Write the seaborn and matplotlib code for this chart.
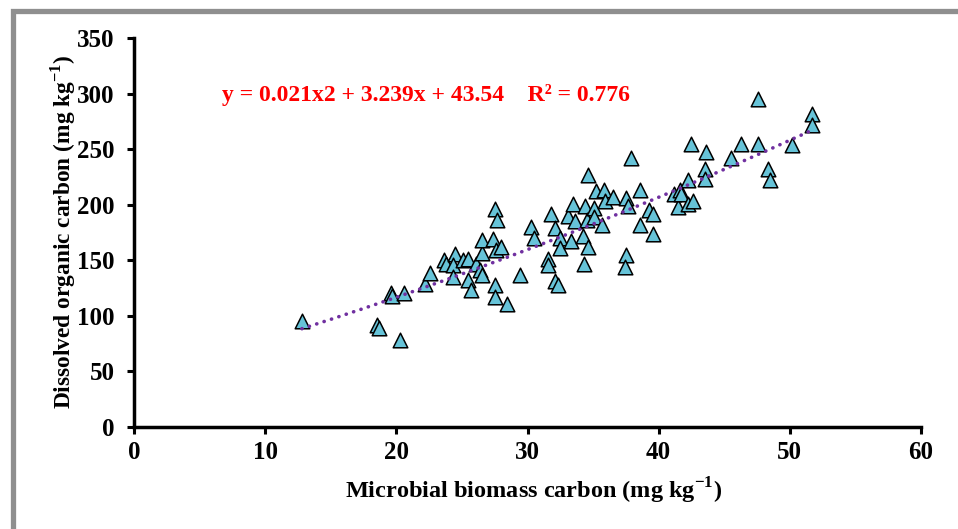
import numpy as np
import pandas as pd
import matplotlib
matplotlib.use("Agg")
import matplotlib.pyplot as plt
import seaborn as sns
from matplotlib.patches import Rectangle

# ---- data ----
mbc = [12.8, 18.5, 18.7, 20.3, 19.6, 19.7, 20.6, 22.2, 22.6, 23.6, 23.8, 24.5, 24.3, 24.3,
       25.1, 25.5, 25.5, 25.7, 26.1, 26.4, 26.5, 26.5, 26.5, 27.4, 27.5, 27.7, 27.6, 28.0,
       27.5, 27.5, 28.4, 29.4, 30.3, 30.5, 31.6, 31.6, 31.8, 32.1, 32.1, 32.3, 32.5, 32.5,
       33.1, 33.3, 33.5, 33.6, 34.2, 34.3, 34.4, 34.5, 34.6, 34.6, 35.1, 35.1, 35.2, 35.7,
       35.8, 35.9, 36.5, 37.5, 37.7, 37.5, 37.4, 37.9, 38.6, 38.6, 39.3, 39.6, 39.6, 41.2,
       41.5, 41.6, 41.7, 42.2, 42.2, 42.6, 42.5, 43.6, 43.5, 43.5, 45.5, 46.3, 47.6, 47.6,
       48.3, 48.5, 50.2, 51.7, 51.7]
doc = [95, 92, 89, 78, 121, 118, 121, 129, 139, 150, 147, 156, 146, 135,
       150, 151, 132, 123, 147, 141, 137, 157, 168, 169, 196, 186, 159, 162,
       128, 117, 111, 137, 180, 170, 151, 146, 192, 179, 131, 128, 170, 161,
       190, 167, 201, 185, 172, 147, 199, 186, 227, 162, 197, 189, 212, 182,
       213, 203, 207, 206, 199, 155, 144, 242, 213, 182, 195, 192, 174, 210,
       198, 213, 210, 222, 201, 203, 255, 247, 232, 223, 242, 255, 295, 255,
       232, 222, 254, 282, 272]
trend_coef = [0.021, 3.239, 43.54]   # y = a x^2 + b x + c
x_ticks = [0, 10, 20, 30, 40, 50, 60]
y_ticks = [0, 50, 100, 150, 200, 250, 300, 350]
equation = "y = 0.021x2 + 3.239x + 43.54    R\u00b2 = 0.776"
x_label = r"Microbial biomass carbon (mg kg$^{\mathbf{-1}}$)"
y_label = r"Dissolved organic carbon (mg kg$^{\mathbf{-1}}$)"

df = pd.DataFrame({"MBC": mbc, "DOC": doc})

sns.set_theme(style="white")
plt.rcParams["font.family"] = ["Liberation Serif", "DejaVu Serif"]
plt.rcParams["font.weight"] = "bold"
plt.rcParams["mathtext.fontset"] = "custom"
plt.rcParams["mathtext.rm"] = "Liberation Serif:bold"
plt.rcParams["mathtext.bf"] = "Liberation Serif:bold"

W, H = 958, 529
fig = plt.figure(figsize=(W / 100, H / 100), dpi=100)
fig.patch.set_facecolor("white")
ax = fig.add_axes([134 / W, 1 - 427 / H, (921 - 134) / W, (427 - 38) / H])

# outer gray frame
fig.patches.append(Rectangle((12.5 / W, -0.05), 1.2, 1 - 10.5 / H + 0.05,
                             transform=fig.transFigure, fill=False,
                             edgecolor="#8f8f8f", linewidth=3.8, zorder=0))

# trend line
a, b, c = trend_coef
xs = np.linspace(min(mbc), max(mbc), 300)
ax.plot(xs, a * xs ** 2 + b * xs + c, color="#7030A0", linewidth=2.6,
        linestyle=(0, (0.05, 2.1)), dash_capstyle="round", zorder=3)

sns.scatterplot(data=df, x="MBC", y="DOC", marker="^", s=110,
                color="#66C3D8", edgecolor="black", linewidth=1.1, ax=ax, zorder=2)

ax.set_xlim(0, 60)
ax.set_ylim(0, 350)
ax.set_xticks(x_ticks)
ax.set_yticks(y_ticks)
ax.set_xticklabels([str(t) for t in x_ticks], fontsize=18, fontweight="bold")
ax.set_yticklabels([str(t) for t in y_ticks], fontsize=18, fontweight="bold")
ax.tick_params(axis="both", direction="out", length=5, width=2.2, color="black",
               labelcolor="black", bottom=True, left=True)
ax.tick_params(axis="x", pad=5)
ax.tick_params(axis="y", pad=9)
for side in ["top", "right"]:
    ax.spines[side].set_visible(False)
for side in ["left", "bottom"]:
    ax.spines[side].set_color("black")
    ax.spines[side].set_linewidth(2.5)

ax.set_xlabel(x_label, fontsize=17.5, fontweight="bold", color="black", va="center")
ax.set_ylabel(y_label, fontsize=16.8, fontweight="bold", color="black", va="center")
ax.xaxis.set_label_coords((534 - 134) / 787, (427 - 491) / 389)
ax.yaxis.set_label_coords((63 - 134) / 787, (427 - 232) / 389)

ax.text(6.7, 299, equation, color="red", fontsize=17, fontweight="bold",
        va="center", ha="left")

fig.savefig("out.png", dpi=100)
